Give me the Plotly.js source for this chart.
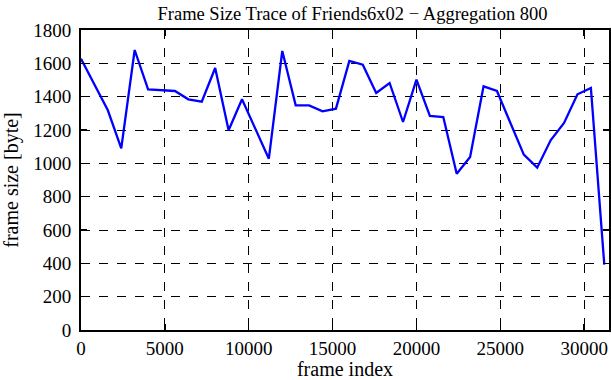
<!DOCTYPE html>
<html>
<head>
<meta charset="utf-8">
<script src="https://cdn.plot.ly/plotly-3.0.1.min.js"></script>
<style>html,body{margin:0;padding:0;background:#fff;}#chart{width:611px;height:380px;}</style>
</head>
<body>
<div id="chart"></div>
<script>
var frameIndex = [0, 800, 1600, 2400, 3200, 4000, 4800, 5600, 6400, 7200, 8000, 8800, 9600, 10400, 11200, 12000, 12800, 13600, 14400, 15200, 16000, 16800, 17600, 18400, 19200, 20000, 20800, 21600, 22400, 23200, 24000, 24800, 25600, 26400, 27200, 28000, 28800, 29600, 30400, 31200];
var frameSize = [1628, 1475, 1318, 1090, 1680, 1444, 1440, 1434, 1384, 1370, 1572, 1198, 1384, 1207, 1028, 1674, 1348, 1348, 1312, 1328, 1614, 1592, 1422, 1482, 1248, 1502, 1284, 1278, 938, 1038, 1462, 1434, 1240, 1052, 974, 1138, 1242, 1414, 1452, 392];
var xTicks = [0, 5000, 10000, 15000, 20000, 25000, 30000];
var yTicks = [0, 200, 400, 600, 800, 1000, 1200, 1400, 1600, 1800];
var titleText = "Frame Size Trace of Friends6x02 \u2212 Aggregation 800";
var xTitle = "frame index";
var yTitle = "frame size [byte]";

var font = "Liberation Serif, Times New Roman, serif";
var axisCommon = {
  showline: true, linecolor: "#000", linewidth: 2, mirror: "ticks",
  ticks: "inside", ticklen: 6, tickwidth: 1.5, tickcolor: "#000",
  showgrid: true, gridcolor: "#000", griddash: "dash", gridwidth: 1,
  zeroline: false, tickfont: {family: font, size: 19, color: "#000"}
};
var layout = {
  width: 611, height: 380,
  margin: {l: 81, r: 2, t: 30, b: 50},
  paper_bgcolor: "#fff", plot_bgcolor: "#fff",
  showlegend: false,
  title: {text: titleText, font: {family: font, size: 18.5, color: "#000"}, x: 0.577, xanchor: "center", y: 0.982, yanchor: "top"},
  xaxis: Object.assign({}, axisCommon, {range: [0, 31480], tickvals: xTicks, ticktext: xTicks.map(String),
    title: {text: xTitle, font: {family: font, size: 20, color: "#000"}, standoff: 14}}),
  yaxis: Object.assign({}, axisCommon, {range: [0, 1800], tickvals: yTicks, ticktext: yTicks.map(String), ticklabelstandoff: 4,
    title: {text: yTitle, font: {family: font, size: 20, color: "#000"}, standoff: 12}})
};
var trace = {x: frameIndex, y: frameSize, type: "scatter", mode: "lines", line: {color: "#0000ff", width: 2.3}, cliponaxis: true};
Plotly.newPlot("chart", [trace], layout, {displayModeBar: false, staticPlot: true});
</script>
</body>
</html>
